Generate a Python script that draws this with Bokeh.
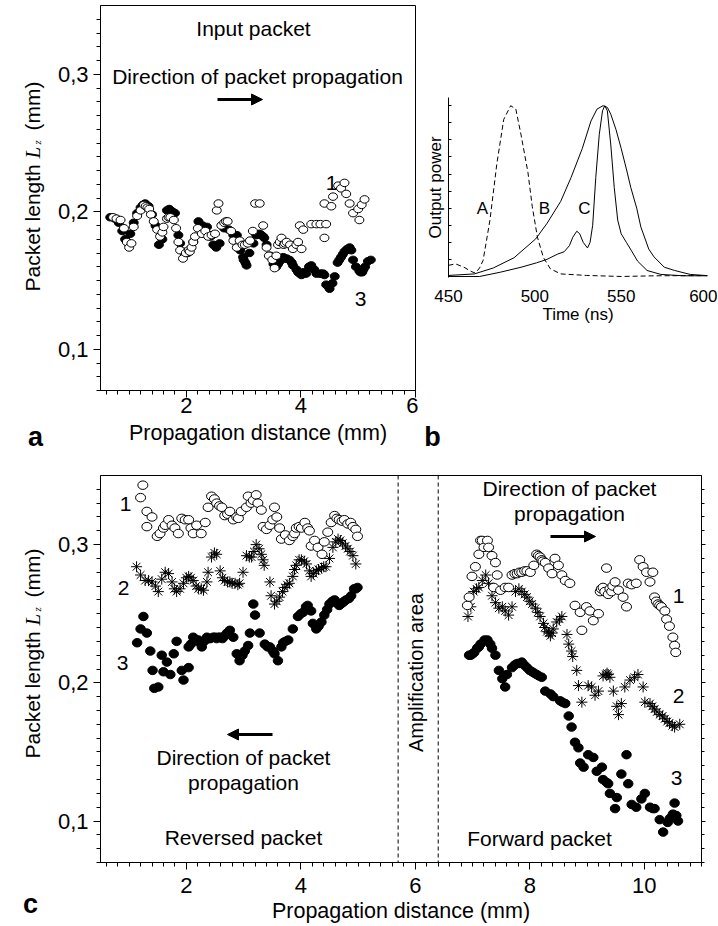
import math
from bokeh.plotting import figure
from bokeh.layouts import column, row
from bokeh.models import (SingleIntervalTicker, FixedTicker, CustomJSTickFormatter, LinearAxis,
                          Label, Span, Arrow, NormalHead, ColumnDataSource, Range1d, Spacer)
from bokeh.embed import file_html
from bokeh.resources import INLINE

FONT = "Liberation Sans"
SERIF = "Liberation Serif"

# ---------------- data: panel a (input packet) ----------------
a_curve1 = [(0.72, 0.196), (0.78, 0.195), (0.85, 0.194), (0.91, 0.188), (0.96, 0.178), (1.00, 0.174),
            (1.04, 0.177), (1.08, 0.189), (1.14, 0.197), (1.20, 0.201), (1.26, 0.205), (1.29, 0.204),
            (1.32, 0.203), (1.35, 0.202), (1.38, 0.198), (1.43, 0.193), (1.49, 0.187), (1.54, 0.182),
            (1.58, 0.185), (1.60, 0.189), (1.66, 0.195), (1.69, 0.196), (1.72, 0.196), (1.78, 0.194),
            (1.82, 0.188), (1.86, 0.178), (1.89, 0.172), (1.94, 0.166), (1.99, 0.170), (2.04, 0.172),
            (2.06, 0.171), (2.09, 0.174), (2.12, 0.178), (2.15, 0.182), (2.20, 0.188), (2.27, 0.184),
            (2.33, 0.186), (2.38, 0.182), (2.44, 0.183), (2.50, 0.184), (2.53, 0.201), (2.56, 0.206),
            (2.61, 0.190), (2.66, 0.192), (2.69, 0.193), (2.72, 0.193), (2.78, 0.186), (2.82, 0.179),
            (2.88, 0.174), (2.93, 0.179), (2.98, 0.176), (3.02, 0.176), (3.07, 0.177), (3.11, 0.179),
            (3.16, 0.186), (3.20, 0.206), (3.28, 0.206), (3.34, 0.190), (3.40, 0.174), (3.44, 0.168),
            (3.50, 0.165), (3.54, 0.159), (3.57, 0.168), (3.60, 0.176), (3.63, 0.178), (3.66, 0.181),
            (3.70, 0.176), (3.72, 0.177), (3.75, 0.178), (3.81, 0.176), (3.86, 0.173), (3.92, 0.176),
            (3.95, 0.178), (3.98, 0.190), (4.01, 0.173), (4.04, 0.187), (4.18, 0.191), (4.27, 0.191),
            (4.34, 0.191), (4.41, 0.181), (4.44, 0.191), (4.41, 0.206), (4.53, 0.204), (4.56, 0.211),
            (4.65, 0.219), (4.70, 0.217), (4.76, 0.221), (4.79, 0.213), (4.85, 0.206), (4.91, 0.199),
            (5.00, 0.202), (5.02, 0.194), (5.06, 0.205), (5.11, 0.209)]
a_curve3 = [(0.67, 0.196), (0.75, 0.195), (0.82, 0.192), (0.88, 0.186), (0.93, 0.180), (0.97, 0.178),
            (1.02, 0.184), (1.08, 0.192), (1.14, 0.199), (1.20, 0.203), (1.24, 0.205), (1.28, 0.206),
            (1.34, 0.204), (1.40, 0.198), (1.46, 0.190), (1.52, 0.176), (1.58, 0.180), (1.66, 0.201),
            (1.70, 0.202), (1.72, 0.201), (1.76, 0.200), (1.80, 0.199), (1.86, 0.183), (1.89, 0.177),
            (1.95, 0.171), (2.02, 0.170), (2.12, 0.178), (2.21, 0.193), (2.28, 0.190), (2.36, 0.189),
            (2.42, 0.182), (2.47, 0.176), (2.52, 0.174), (2.58, 0.177), (2.66, 0.188), (2.74, 0.187),
            (2.82, 0.183), (2.88, 0.183), (2.94, 0.172), (2.99, 0.167), (3.00, 0.165), (3.03, 0.163),
            (3.05, 0.161), (3.10, 0.170), (3.17, 0.177), (3.22, 0.183), (3.28, 0.184), (3.31, 0.183),
            (3.34, 0.182), (3.36, 0.181), (3.40, 0.176), (3.46, 0.168), (3.52, 0.162), (3.57, 0.160),
            (3.60, 0.162), (3.63, 0.164), (3.69, 0.167), (3.72, 0.166), (3.75, 0.166), (3.80, 0.165),
            (3.84, 0.163), (3.86, 0.161), (3.92, 0.158), (3.95, 0.156), (3.98, 0.155), (4.01, 0.154),
            (4.04, 0.156), (4.09, 0.155), (4.14, 0.160), (4.18, 0.161), (4.23, 0.158), (4.27, 0.155),
            (4.33, 0.155), (4.36, 0.155), (4.39, 0.155), (4.41, 0.154), (4.44, 0.147), (4.47, 0.146),
            (4.50, 0.144), (4.55, 0.148), (4.59, 0.153), (4.64, 0.163), (4.67, 0.165), (4.70, 0.167),
            (4.73, 0.169), (4.76, 0.171), (4.79, 0.172), (4.81, 0.173), (4.85, 0.174), (4.88, 0.172),
            (4.91, 0.165), (4.96, 0.160), (5.02, 0.157), (5.04, 0.156), (5.07, 0.156), (5.09, 0.158),
            (5.12, 0.160), (5.17, 0.164), (5.22, 0.165)]

# ---------------- data: panel b (output power vs time) ----------------
b_time_A = [450, 454, 459, 463, 465.5, 468, 470, 472, 474, 478, 482, 486, 489, 492, 496, 498.5,
            501.5, 505, 509, 515, 530, 550, 570, 590, 600]
b_pow_A = [0.065, 0.074, 0.054, 0.03, 0.02, 0.05, 0.093, 0.21, 0.33, 0.66, 0.92, 1.0, 0.98, 0.83,
           0.61, 0.41, 0.23, 0.11, 0.045, 0.015, 0.006, 0.0, 0.004, 0.005, 0.005]
b_time_B = [450, 465, 476, 488, 500.5, 507, 515, 521, 527.5, 532.5, 536, 539.5, 542, 544, 547, 550,
            553, 555.6, 559, 561.4, 566, 569, 575, 581, 590, 600]
b_pow_B = [0.006, 0.015, 0.05, 0.11, 0.22, 0.31, 0.44, 0.58, 0.75, 0.91, 0.98, 1.0, 0.99, 0.95, 0.86,
           0.75, 0.63, 0.52, 0.40, 0.29, 0.16, 0.115, 0.054, 0.035, 0.012, 0.005]
b_time_C = [450, 468, 480, 492, 501, 507, 513, 517, 520, 522, 524.3, 526, 528, 530.5, 532, 533.5,
            535.3, 537.3, 539.2, 540.5, 542, 544, 546, 548, 550, 553, 556, 559.5, 565, 573, 586, 600]
b_pow_C = [0.0, 0.0, 0.025, 0.054, 0.08, 0.10, 0.13, 0.145, 0.18, 0.23, 0.265, 0.25, 0.20, 0.167, 0.2,
           0.3, 0.58, 0.83, 0.97, 1.0, 0.97, 0.77, 0.52, 0.33, 0.25, 0.20, 0.15, 0.09, 0.035, 0.012,
           0.004, 0.004]
b_ticks = [450, 500, 550, 600]

# ---------------- data: panel c, reversed packet ----------------
c_rev_1 = [(1.20, 0.334), (1.24, 0.343), (1.31, 0.324), (1.31, 0.313), (1.40, 0.320), (1.49, 0.306),
           (1.54, 0.308), (1.60, 0.312), (1.63, 0.314), (1.69, 0.318), (1.75, 0.314), (1.80, 0.312),
           (1.86, 0.308), (1.92, 0.319), (1.98, 0.318), (2.04, 0.318), (2.08, 0.312), (2.12, 0.308),
           (2.18, 0.314), (2.26, 0.308), (2.33, 0.316), (2.38, 0.327), (2.44, 0.335), (2.49, 0.333),
           (2.53, 0.330), (2.58, 0.328), (2.62, 0.327), (2.67, 0.321), (2.72, 0.322), (2.76, 0.324),
           (2.82, 0.318), (2.88, 0.320), (2.91, 0.319), (2.96, 0.324), (3.05, 0.327), (3.08, 0.335),
           (3.13, 0.330), (3.17, 0.332), (3.22, 0.336), (3.25, 0.330), (3.31, 0.325), (3.34, 0.313),
           (3.40, 0.311), (3.46, 0.314), (3.51, 0.318), (3.54, 0.327), (3.58, 0.320), (3.63, 0.312),
           (3.66, 0.304), (3.73, 0.307), (3.80, 0.303), (3.86, 0.306), (3.89, 0.308), (3.92, 0.312),
           (3.97, 0.313), (4.01, 0.312), (4.07, 0.316), (4.12, 0.312), (4.15, 0.310), (4.18, 0.299),
           (4.24, 0.303), (4.30, 0.298), (4.37, 0.293), (4.41, 0.302), (4.47, 0.309), (4.53, 0.316),
           (4.59, 0.321), (4.63, 0.319), (4.67, 0.318), (4.72, 0.317), (4.76, 0.318), (4.82, 0.315),
           (4.87, 0.316), (4.91, 0.313), (4.96, 0.311), (4.99, 0.306)]
c_rev_2 = [(1.13, 0.284), (1.20, 0.278), (1.28, 0.274), (1.34, 0.274), (1.40, 0.273), (1.46, 0.270),
           (1.51, 0.266), (1.57, 0.275), (1.63, 0.280), (1.69, 0.279), (1.75, 0.273), (1.79, 0.268),
           (1.83, 0.266), (1.89, 0.268), (1.95, 0.272), (2.00, 0.276), (2.04, 0.277), (2.08, 0.276),
           (2.12, 0.274), (2.17, 0.270), (2.21, 0.268), (2.26, 0.268), (2.30, 0.267), (2.36, 0.273),
           (2.38, 0.280), (2.44, 0.291), (2.49, 0.294), (2.53, 0.293), (2.59, 0.281), (2.63, 0.276),
           (2.67, 0.274), (2.72, 0.273), (2.76, 0.273), (2.80, 0.272), (2.85, 0.272), (2.90, 0.271),
           (2.93, 0.272), (2.99, 0.280), (3.05, 0.292), (3.10, 0.291), (3.14, 0.291), (3.18, 0.295),
           (3.22, 0.300), (3.27, 0.297), (3.31, 0.293), (3.34, 0.289), (3.36, 0.285), (3.46, 0.273),
           (3.48, 0.263), (3.54, 0.257), (3.58, 0.259), (3.63, 0.262), (3.68, 0.266), (3.72, 0.269),
           (3.76, 0.271), (3.80, 0.272), (3.86, 0.277), (3.89, 0.282), (3.92, 0.285), (3.97, 0.289),
           (4.01, 0.289), (4.06, 0.288), (4.10, 0.286), (4.15, 0.281), (4.18, 0.277), (4.22, 0.279),
           (4.27, 0.281), (4.31, 0.282), (4.36, 0.283), (4.40, 0.284), (4.44, 0.284), (4.50, 0.290),
           (4.56, 0.298), (4.61, 0.302), (4.65, 0.304), (4.69, 0.303), (4.73, 0.301), (4.78, 0.299),
           (4.82, 0.297), (4.86, 0.295), (4.91, 0.292), (4.96, 0.286)]
c_rev_3 = [(1.14, 0.229), (1.20, 0.239), (1.25, 0.248), (1.31, 0.236), (1.37, 0.223), (1.41, 0.209),
           (1.44, 0.196), (1.51, 0.197), (1.57, 0.220), (1.60, 0.208), (1.66, 0.215), (1.72, 0.206),
           (1.78, 0.221), (1.83, 0.230), (1.92, 0.209), (1.95, 0.202), (2.04, 0.211), (2.04, 0.226),
           (2.08, 0.228), (2.12, 0.233), (2.17, 0.231), (2.21, 0.231), (2.24, 0.229), (2.27, 0.226),
           (2.31, 0.230), (2.36, 0.233), (2.39, 0.232), (2.42, 0.232), (2.47, 0.233), (2.50, 0.233),
           (2.53, 0.232), (2.56, 0.233), (2.59, 0.233), (2.63, 0.232), (2.67, 0.234), (2.71, 0.236),
           (2.76, 0.238), (2.82, 0.233), (2.88, 0.221), (2.93, 0.216), (2.98, 0.220), (3.02, 0.223),
           (3.08, 0.227), (3.11, 0.236), (3.17, 0.257), (3.20, 0.249), (3.28, 0.236), (3.37, 0.228),
           (3.42, 0.226), (3.46, 0.226), (3.51, 0.223), (3.54, 0.221), (3.60, 0.216), (3.66, 0.226),
           (3.69, 0.229), (3.73, 0.230), (3.78, 0.231), (3.86, 0.239), (3.95, 0.248), (4.00, 0.250),
           (4.04, 0.251), (4.09, 0.255), (4.12, 0.256), (4.18, 0.252), (4.21, 0.243), (4.27, 0.239),
           (4.31, 0.241), (4.36, 0.244), (4.41, 0.249), (4.46, 0.253), (4.50, 0.257), (4.55, 0.259),
           (4.59, 0.260), (4.63, 0.258), (4.67, 0.256), (4.70, 0.257), (4.73, 0.258), (4.76, 0.259),
           (4.79, 0.260), (4.84, 0.261), (4.88, 0.263), (4.93, 0.268), (4.96, 0.268), (4.99, 0.269)]

# ---------------- data: panel c, forward packet ----------------
c_fwd_1 = [(6.91, 0.256), (6.94, 0.262), (6.99, 0.277), (7.05, 0.284), (7.11, 0.293), (7.14, 0.303),
           (7.17, 0.303), (7.20, 0.298), (7.26, 0.303), (7.28, 0.298), (7.34, 0.292), (7.40, 0.287),
           (7.43, 0.278), (7.37, 0.269), (7.49, 0.267), (7.57, 0.269), (7.63, 0.269), (7.69, 0.278),
           (7.74, 0.279), (7.78, 0.279), (7.82, 0.280), (7.86, 0.280), (7.91, 0.281), (7.95, 0.281),
           (8.01, 0.280), (8.07, 0.285), (8.12, 0.293), (8.15, 0.292), (8.18, 0.291), (8.21, 0.289),
           (8.23, 0.288), (8.27, 0.287), (8.33, 0.283), (8.39, 0.279), (8.44, 0.290), (8.50, 0.285),
           (8.56, 0.278), (8.62, 0.274), (8.70, 0.272), (8.79, 0.256), (8.88, 0.251), (8.91, 0.238),
           (8.99, 0.255), (9.05, 0.252), (9.11, 0.245), (9.20, 0.250), (9.23, 0.266), (9.25, 0.268),
           (9.28, 0.269), (9.31, 0.266), (9.34, 0.283), (9.37, 0.264), (9.40, 0.268), (9.43, 0.266),
           (9.45, 0.270), (9.49, 0.273), (9.55, 0.267), (9.63, 0.262), (9.69, 0.255), (9.72, 0.272),
           (9.78, 0.271), (9.86, 0.272), (9.92, 0.289), (9.98, 0.284), (10.04, 0.280), (10.10, 0.273),
           (10.15, 0.280), (10.18, 0.262), (10.21, 0.259), (10.24, 0.257), (10.27, 0.256), (10.30, 0.255),
           (10.36, 0.252), (10.39, 0.246), (10.44, 0.241), (10.50, 0.233), (10.53, 0.227), (10.55, 0.222)]
c_fwd_2 = [(6.92, 0.248), (6.97, 0.255), (7.02, 0.266), (7.07, 0.268), (7.11, 0.269), (7.17, 0.274),
           (7.23, 0.278), (7.28, 0.272), (7.34, 0.263), (7.40, 0.258), (7.46, 0.254), (7.52, 0.255),
           (7.57, 0.252), (7.63, 0.249), (7.69, 0.255), (7.75, 0.266), (7.81, 0.268), (7.86, 0.266),
           (7.91, 0.264), (7.95, 0.262), (8.00, 0.259), (8.04, 0.257), (8.10, 0.254), (8.14, 0.251),
           (8.18, 0.248), (8.24, 0.243), (8.26, 0.240), (8.30, 0.237), (8.33, 0.236), (8.36, 0.234),
           (8.39, 0.236), (8.41, 0.239), (8.47, 0.244), (8.52, 0.246), (8.56, 0.248), (8.65, 0.235),
           (8.68, 0.228), (8.73, 0.223), (8.75, 0.219), (8.82, 0.209), (8.85, 0.198), (8.91, 0.186),
           (9.02, 0.198), (9.08, 0.197), (9.14, 0.191), (9.20, 0.194), (9.28, 0.205), (9.33, 0.206),
           (9.35, 0.207), (9.37, 0.206), (9.40, 0.204), (9.46, 0.194), (9.52, 0.183), (9.55, 0.177),
           (9.60, 0.185), (9.66, 0.197), (9.75, 0.202), (9.83, 0.204), (9.89, 0.206), (9.98, 0.197),
           (10.01, 0.186), (10.10, 0.185), (10.14, 0.183), (10.18, 0.181), (10.22, 0.179), (10.27, 0.177),
           (10.32, 0.176), (10.36, 0.174), (10.40, 0.172), (10.44, 0.171), (10.49, 0.169), (10.53, 0.168),
           (10.62, 0.170)]
c_fwd_3 = [(6.94, 0.220), (6.97, 0.220), (7.00, 0.221), (7.03, 0.222), (7.08, 0.225), (7.11, 0.226),
           (7.14, 0.228), (7.21, 0.231), (7.26, 0.231), (7.31, 0.228), (7.34, 0.225), (7.40, 0.220),
           (7.46, 0.209), (7.52, 0.203), (7.57, 0.197), (7.60, 0.206), (7.69, 0.211), (7.74, 0.213),
           (7.78, 0.214), (7.82, 0.214), (7.86, 0.215), (7.90, 0.213), (7.95, 0.211), (8.00, 0.209),
           (8.04, 0.208), (8.08, 0.207), (8.12, 0.206), (8.16, 0.205), (8.21, 0.204), (8.27, 0.194),
           (8.36, 0.192), (8.41, 0.190), (8.53, 0.187), (8.57, 0.186), (8.62, 0.185), (8.68, 0.176),
           (8.73, 0.168), (8.79, 0.157), (8.85, 0.153), (8.88, 0.142), (8.94, 0.139), (9.02, 0.148),
           (9.11, 0.146), (9.17, 0.136), (9.26, 0.139), (9.28, 0.130), (9.34, 0.128), (9.37, 0.127),
           (9.40, 0.120), (9.49, 0.109), (9.52, 0.117), (9.60, 0.134), (9.69, 0.148), (9.72, 0.127),
           (9.78, 0.112), (9.86, 0.110), (9.95, 0.116), (10.01, 0.120), (10.10, 0.110), (10.15, 0.109),
           (10.18, 0.109), (10.27, 0.101), (10.33, 0.092), (10.41, 0.099), (10.45, 0.102), (10.50, 0.105),
           (10.53, 0.113), (10.56, 0.104), (10.59, 0.100)]

amp_area = [5.7, 6.4]
dist_ticks_interval = 2
len_ticks_interval = 0.1


def xs(pts):
    return [p[0] for p in pts]


def ys(pts):
    return [p[1] for p in pts]


comma_fmt = CustomJSTickFormatter(code="return tick.toFixed(1).replace('.', ',');")
blank_fmt = CustomJSTickFormatter(code="return '';")


def style_axis(ax, tsize="22px"):
    ax.axis_line_color = "black"
    ax.axis_line_width = 1
    ax.major_tick_line_color = "black"
    ax.minor_tick_line_color = "black"
    ax.major_tick_in = 0
    ax.major_tick_out = 7
    ax.minor_tick_in = 0
    ax.minor_tick_out = 4
    ax.major_label_text_font = FONT
    ax.major_label_text_font_size = tsize
    ax.major_label_text_color = "black"
    ax.axis_label_text_font = FONT
    ax.axis_label_text_font_style = "normal"
    ax.axis_label_text_font_size = "21.5px"
    ax.axis_label_text_color = "black"


def add_label(fig, x, y, text, size="21px", align="center", baseline="middle", font=FONT,
              style="normal", angle=0.0):
    fig.add_layout(Label(x=x, y=y, text=text, text_font=font, text_font_size=size,
                         text_font_style=style, text_align=align, text_baseline=baseline,
                         text_color="black", angle=angle))


def add_arrow(fig, x0, x1, y):
    fig.add_layout(Arrow(end=NormalHead(size=11, fill_color="black", line_color="black", line_width=1),
                         x_start=x0, y_start=y, x_end=x1, y_end=y, line_width=3, line_color="black"))


def base_fig(w, h, xr, yr, **kw):
    f = figure(width=w, height=h, x_range=Range1d(*xr), y_range=Range1d(*yr),
               output_backend="svg", toolbar_location=None, **kw)
    f.xgrid.visible = False
    f.ygrid.visible = False
    f.background_fill_color = "white"
    f.border_fill_color = "white"
    return f


def text_fig(w, h, x0, x1, ytop, ybot, top=0, right=0):
    # a bare strip (no axes) whose frame is measured in page pixels, holding caption texts
    f = figure(width=w, height=h, x_range=Range1d(x0, x1), y_range=Range1d(ybot, ytop),
               x_axis_type=None, y_axis_type=None, output_backend="svg", toolbar_location=None,
               min_border_left=0, min_border_right=right, min_border_top=top, min_border_bottom=0)
    f.outline_line_color = None
    f.background_fill_color = "white"
    f.border_fill_color = "white"
    return f


def open_circles(fig, pts, w, h):
    src = ColumnDataSource(dict(x=xs(pts), y=ys(pts)))
    fig.ellipse(x="x", y="y", width=w, height=h, width_units="screen", height_units="screen",
                source=src, fill_color="white", line_color="black", line_width=1)


def filled_circles(fig, pts, w, h):
    src = ColumnDataSource(dict(x=xs(pts), y=ys(pts)))
    fig.ellipse(x="x", y="y", width=w, height=h, width_units="screen", height_units="screen",
                source=src, fill_color="black", line_color="black", line_width=1)


def vertical_ylabel(fig, start_py):
    # "Packet length  L_z (mm)" built from pieces, reading bottom-to-top (page pixels)
    add_label(fig, 32, start_py, "Packet length", align="left", baseline="alphabetic",
              angle=math.pi / 2)
    add_label(fig, 32, start_py - 133, "L", align="left", baseline="alphabetic", angle=math.pi / 2,
              font=SERIF, style="italic")
    add_label(fig, 36, start_py - 147, "z", size="11px", align="left", baseline="alphabetic",
              angle=math.pi / 2, font=SERIF, style="italic")
    add_label(fig, 32, start_py - 161, "(mm)", align="left", baseline="alphabetic",
              angle=math.pi / 2)


# ================= left caption strip (whole page height) =================
tl = text_fig(45, 926, 0, 45, 0, 926)
vertical_ylabel(tl, 291)
add_label(tl, 35, 436, "a", size="27px", style="bold")
vertical_ylabel(tl, 758)
add_label(tl, 30, 903, "c", size="27px", style="bold")

tb = text_fig(297, 50, 420, 707, 400, 450, right=10)
add_label(tb, 432, 436, "b", size="27px", style="bold")

# ================= panel a =================
A_X, A_Y = (0.5, 6.0), (0.07, 0.35)
fa = base_fig(373, 455, A_X, A_Y, min_border_left=55, min_border_right=3,
              min_border_top=5, min_border_bottom=65)
fa.outline_line_color = "black"
fa.outline_line_width = 1
fa.xaxis.ticker = SingleIntervalTicker(interval=dist_ticks_interval, num_minor_ticks=10)
fa.yaxis.ticker = SingleIntervalTicker(interval=len_ticks_interval, num_minor_ticks=10)
fa.yaxis.formatter = comma_fmt
for ax in fa.xaxis + fa.yaxis:
    style_axis(ax)
fa.xaxis.axis_label = "Propagation distance (mm)"
fa.xaxis.major_label_standoff = 0
fa.xaxis.axis_label_standoff = 5
fa.yaxis.major_label_standoff = 5


def conv_a(px, py):
    return 0.5 + (px - 100) * 5.5 / 315, 0.35 - (py - 5) * 0.28 / 385


filled_circles(fa, a_curve3, 9, 7.5)
open_circles(fa, a_curve1, 9, 7.5)
add_label(fa, *conv_a(253, 28), "Input packet")
add_label(fa, *conv_a(257, 76), "Direction of packet propagation")
ax0, ay = conv_a(217, 99)
ax1, _ = conv_a(262, 99)
add_arrow(fa, ax0, ax1, ay)
add_label(fa, *conv_a(331, 182), "1")
add_label(fa, *conv_a(360, 298), "3")

# ================= panel b =================
B_X, B_Y = (450, 600), (-0.006, 1.048)
fb = base_fig(299, 310, B_X, B_Y, min_border_left=30, min_border_right=10,
              min_border_top=7, min_border_bottom=123)
fb.outline_line_color = None
fb.xaxis.ticker = FixedTicker(ticks=b_ticks)
fb.yaxis.ticker = SingleIntervalTicker(interval=0.1, num_minor_ticks=0)
fb.yaxis.formatter = blank_fmt
for ax in fb.xaxis + fb.yaxis:
    style_axis(ax, "17px")
    ax.axis_label_text_font_size = "17px"
fb.xaxis.axis_line_color = None
fb.xaxis.major_tick_line_color = None
fb.xaxis.minor_tick_line_color = None
fb.xaxis.major_tick_out = 0
fb.xaxis.major_label_standoff = 12
fb.xaxis.axis_label = "Time (ns)"
fb.xaxis.axis_label_standoff = 0
fb.yaxis.major_tick_in = 3
fb.yaxis.major_tick_out = 0
fb.yaxis.minor_tick_line_color = None
fb.yaxis.major_label_standoff = 0
fb.yaxis.axis_label = "Output power"
fb.yaxis.axis_label_standoff = 4

fb.line(b_time_A, b_pow_A, line_color="black", line_width=1, line_dash="5 3")
fb.line(b_time_B, b_pow_B, line_color="black", line_width=1)
fb.line(b_time_C, b_pow_C, line_color="black", line_width=1)


def conv_b(px, py):
    return 450 + (px - 448) * 150 / 259, B_Y[1] - (py - 97) * (B_Y[1] - B_Y[0]) / 180


add_label(fb, *conv_b(482, 208), "A", size="17px")
add_label(fb, *conv_b(544, 208), "B", size="17px")
add_label(fb, *conv_b(584, 208), "C", size="17px")

# ================= panel c =================
C_X, C_Y = (0.5, 11.0), (0.07, 0.35)
fc = base_fig(673, 471, C_X, C_Y, min_border_left=55, min_border_right=17,
              min_border_top=20, min_border_bottom=64)
fc.outline_line_color = "black"
fc.outline_line_width = 1
fc.xaxis.ticker = SingleIntervalTicker(interval=dist_ticks_interval, num_minor_ticks=10)
fc.yaxis.ticker = SingleIntervalTicker(interval=len_ticks_interval, num_minor_ticks=10)
fc.yaxis.formatter = comma_fmt
rax = LinearAxis(ticker=SingleIntervalTicker(interval=len_ticks_interval, num_minor_ticks=10),
                 formatter=blank_fmt)
fc.add_layout(rax, "right")
for ax in fc.xaxis + fc.yaxis:
    style_axis(ax)
style_axis(rax)
rax.major_tick_out = 4
rax.minor_tick_out = 3
rax.major_label_standoff = 0
fc.xaxis.axis_label = "Propagation distance (mm)"
fc.xaxis.major_label_standoff = 8
fc.xaxis.axis_label_standoff = 3
fc.yaxis.major_label_standoff = 5

for loc in amp_area:
    fc.add_layout(Span(location=loc, dimension="height", line_color="black", line_width=1,
                       line_dash="4 3"))

filled_circles(fc, c_rev_3, 9.5, 8.5)
fc.scatter(xs(c_rev_2), ys(c_rev_2), marker="asterisk", size=11, line_color="black", line_width=1)
open_circles(fc, c_rev_1, 10, 8.5)
filled_circles(fc, c_fwd_3, 9.5, 8.5)
fc.scatter(xs(c_fwd_2), ys(c_fwd_2), marker="asterisk", size=11, line_color="black", line_width=1)
open_circles(fc, c_fwd_1, 10, 8.5)


def conv_c(px, py):
    return 0.5 + (px - 100) * 10.5 / 601, 0.35 - (py - 475) * 0.28 / 387


add_label(fc, *conv_c(125, 503), "1")
add_label(fc, *conv_c(123, 587), "2")
add_label(fc, *conv_c(122, 662), "3")
cx0, cy = conv_c(272, 734)
cx1, _ = conv_c(227, 734)
add_arrow(fc, cx0, cx1, cy)
add_label(fc, *conv_c(243, 757), "Direction of packet")
add_label(fc, *conv_c(243, 782), "propagation")
add_label(fc, *conv_c(243, 837), "Reversed packet")
add_label(fc, *conv_c(539, 838), "Forward packet")
add_label(fc, *conv_c(569, 488), "Direction of packet")
add_label(fc, *conv_c(569, 513), "propagation")
fx0, fy = conv_c(550, 536)
fx1, _ = conv_c(595, 536)
add_arrow(fc, fx0, fx1, fy)
add_label(fc, *conv_c(678, 595), "1")
add_label(fc, *conv_c(678, 695), "2")
add_label(fc, *conv_c(676, 777), "3")
add_label(fc, *conv_c(415, 672), "Amplification area", size="20px", angle=math.pi / 2)

right_col = column(Spacer(width=299, height=90), fb, row(Spacer(width=2, height=50), tb, spacing=0),
                   spacing=0)
layout = row(tl, column(row(fa, right_col, spacing=0), fc, spacing=0), spacing=0)
open("out.html", "w").write(file_html(layout, INLINE))
